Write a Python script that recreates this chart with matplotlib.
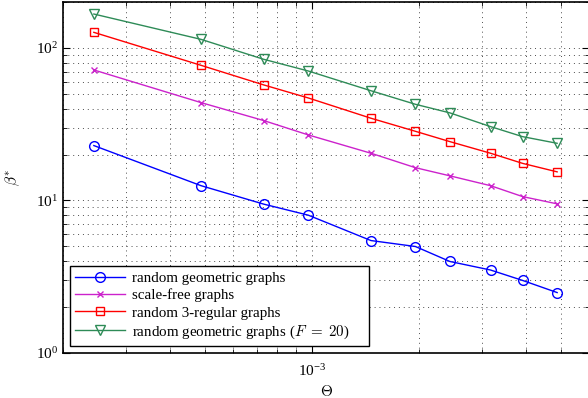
import matplotlib
matplotlib.use("Agg")
import matplotlib.pyplot as plt
import numpy as np

plt.rcParams["mathtext.fontset"] = "cm"
plt.rcParams["font.family"] = ["Liberation Serif", "DejaVu Serif"]

# Theta values are multiples of 1/4096
steps = [1, 2, 3, 4, 6, 8, 10, 13, 16, 20]
theta = [s / 4096 for s in steps]

rgg = [22.9, 12.5, 9.46, 8.01, 5.46, 4.99, 3.98, 3.50, 2.99, 2.49]
scale_free = [71.7, 43.8, 33.4, 26.9, 20.4, 16.4, 14.5, 12.5, 10.6, 9.5]
regular3 = [126.5, 76.9, 57.2, 47.0, 34.6, 28.4, 24.3, 20.4, 17.5, 15.4]
rgg_f20 = [166.8, 113.8, 84.2, 70.6, 52.4, 42.7, 37.5, 30.5, 26.2, 23.7]

series = [
    (rgg, "random geometric graphs", "#0000ff", "o", 7),
    (scale_free, "scale-free graphs", "#cc22cc", "x", 5),
    (regular3, "random 3-regular graphs", "#ff0000", "s", 6),
    (rgg_f20, r"random geometric graphs ($F$ $=$ $20$)", "#2e8b57", "v", 7.5),
]

fig = plt.figure(figsize=(5.88, 3.98), dpi=100)
ax = fig.add_axes([63 / 588, 45 / 398, 526 / 588, 351 / 398])

for vals, label, color, marker, ms in series:
    ax.plot(theta, vals, color=color, marker=marker, markersize=ms,
            markerfacecolor="none", markeredgecolor=color, markeredgewidth=1.0,
            linewidth=1.0, label=label)

ax.set_xscale("log")
ax.set_yscale("log")
ax.set_xlim(2e-4, 6e-3)
ax.set_ylim(1, 200)

ax.grid(True, which="both", linestyle=(0, (1, 4)), color="black", linewidth=0.7, alpha=0.7)
ax.tick_params(which="both", direction="in", top=True, right=True, labelsize=11)
ax.tick_params(which="major", length=5)
ax.tick_params(which="minor", length=3)
ax.tick_params(axis="x", which="major", pad=7)
ax.xaxis.set_minor_formatter(matplotlib.ticker.NullFormatter())

ax.set_xlabel(r"$\Theta$", fontsize=11, labelpad=4)
ax.set_ylabel(r"$\beta^{*}$", fontsize=11, labelpad=10)

for sp in ax.spines.values():
    sp.set_linewidth(1.2)

leg = ax.legend(loc="lower left", bbox_to_anchor=(0.0133, 0.02, 0.568, 0.22),
                mode="expand", fontsize=10.8, fancybox=False, edgecolor="black",
                framealpha=1, handlelength=3.3, handletextpad=0.5,
                borderaxespad=0.0, labelspacing=0.25, borderpad=0.35)
leg.get_frame().set_linewidth(1.0)

fig.savefig("out.png", dpi=100)
